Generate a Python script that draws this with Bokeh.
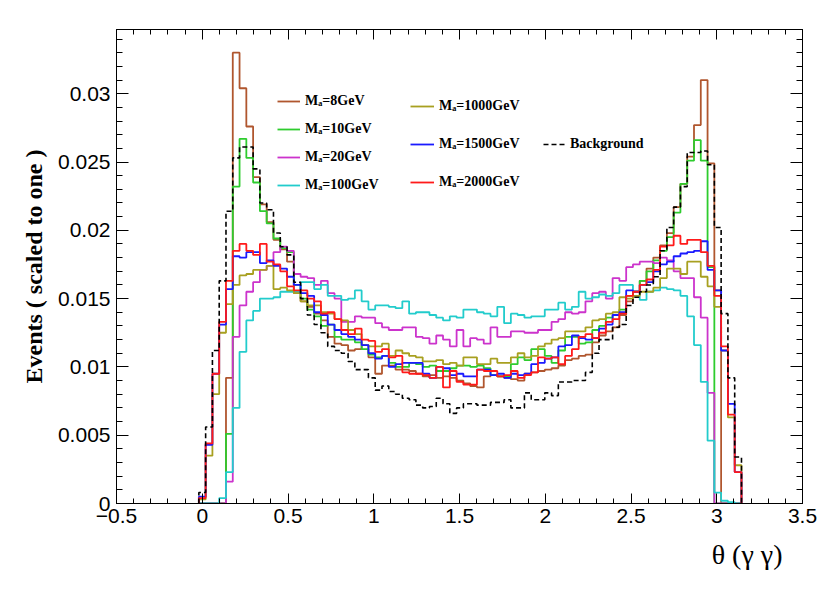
import numpy as np
from bokeh.plotting import figure
from bokeh.models import Range1d, FixedTicker, LinearAxis, Legend, LegendItem, Title
from bokeh.embed import file_html
from bokeh.resources import INLINE

# ---------------- data ----------------
theta_min, theta_max, n_bins = -0.0198, 3.1442, 80

x_ticks = [-0.5, 0, 0.5, 1, 1.5, 2, 2.5, 3, 3.5]
x_tick_labels = ["\u22120.5", "0", "0.5", "1", "1.5", "2", "2.5", "3", "3.5"]
y_ticks = [0, 0.005, 0.01, 0.015, 0.02, 0.025, 0.03]
y_tick_labels = ["0", "0.005", "0.01", "0.015", "0.02", "0.025", "0.03"]

labels = ["M\u2090=8GeV", "M\u2090=10GeV", "M\u2090=20GeV", "M\u2090=100GeV",
          "M\u2090=1000GeV", "M\u2090=1500GeV", "M\u2090=2000GeV", "Background"]

m8 = [0, 0, 0, 0, 0.0092, 0.0330, 0.0304, 0.0276, 0.0239, 0.0219,
      0.0206, 0.0193, 0.0186, 0.0177, 0.0154, 0.0148, 0.0144, 0.0139, 0.0134, 0.0122,
      0.0117, 0.0116, 0.0112, 0.0113, 0.0116, 0.0107, 0.0095, 0.0101, 0.0101, 0.0098,
      0.0098, 0.0097, 0.0095, 0.0093, 0.0094, 0.0092, 0.0093, 0.0092, 0.0090, 0.0088,
      0.0086, 0.0085, 0.0093, 0.0094, 0.0093, 0.0092, 0.0091, 0.0090, 0.0095, 0.0096,
      0.0097, 0.0098, 0.0099, 0.0101, 0.0105, 0.0106, 0.0108, 0.0109, 0.0118, 0.0123,
      0.0126, 0.0129, 0.0138, 0.0148, 0.0155, 0.0163, 0.0172, 0.0180, 0.0189, 0.0198,
      0.0217, 0.0234, 0.0254, 0.0277, 0.0310, 0.0249, 0.0156, 0, 0, 0]

m10 = [0, 0, 0, 0, 0.0051, 0.0232, 0.0267, 0.0253, 0.0235, 0.0214,
       0.0205, 0.0194, 0.0187, 0.0184, 0.0160, 0.0150, 0.0142, 0.0137, 0.0130, 0.0131,
       0.0122, 0.0120, 0.0120, 0.0118, 0.0113, 0.0109, 0.0107, 0.0108, 0.0103, 0.0100,
       0.0100, 0.0103, 0.0102, 0.0100, 0.0101, 0.0097, 0.0097, 0.0099, 0.0101, 0.0101,
       0.0100, 0.0101, 0.0099, 0.0094, 0.0093, 0.0093, 0.0102, 0.0107, 0.0105, 0.0113,
       0.0113, 0.0108, 0.0103, 0.0112, 0.0122, 0.0122, 0.0117, 0.0118, 0.0127, 0.0130,
       0.0136, 0.0138, 0.0142, 0.0152, 0.0155, 0.0163, 0.0170, 0.0178, 0.0185, 0.0195,
       0.0213, 0.0234, 0.0251, 0.0266, 0.0251, 0.0173, 0, 0, 0, 0]

m20 = [0, 0, 0, 0, 0.0016, 0.0122, 0.0145, 0.0155, 0.0162, 0.0171,
       0.0174, 0.0184, 0.0188, 0.0185, 0.0168, 0.0166, 0.0165, 0.0160, 0.0163, 0.0154,
       0.0150, 0.0133, 0.0133, 0.0137, 0.0136, 0.0136, 0.0132, 0.0129, 0.0127, 0.0127,
       0.0129, 0.0129, 0.0122, 0.0121, 0.0117, 0.0123, 0.0120, 0.0115, 0.0127, 0.0115,
       0.0121, 0.0120, 0.0117, 0.0129, 0.0122, 0.0122, 0.0126, 0.0126, 0.0125, 0.0125,
       0.0127, 0.0127, 0.0133, 0.0135, 0.0140, 0.0139, 0.0140, 0.0148, 0.0154, 0.0155,
       0.0150, 0.0165, 0.0163, 0.0173, 0.0175, 0.0177, 0.0177, 0.0176, 0.0180, 0.0178,
       0.0170, 0.0165, 0.0165, 0.0151, 0.0136, 0.0081, 0, 0, 0, 0]

m100 = [0, 0, 0, 0.0004, 0.0023, 0.0070, 0.0111, 0.0134, 0.0141, 0.0150,
        0.0150, 0.0151, 0.0155, 0.0155, 0.0155, 0.0162, 0.0162, 0.0157, 0.0160, 0.0152,
        0.0152, 0.0149, 0.0150, 0.0156, 0.0148, 0.0142, 0.0145, 0.0145, 0.0144, 0.0143,
        0.0148, 0.0139, 0.0140, 0.0140, 0.0138, 0.0136, 0.0134, 0.0137, 0.0136, 0.0142,
        0.0142, 0.0140, 0.0139, 0.0137, 0.0144, 0.0132, 0.0139, 0.0138, 0.0136, 0.0137,
        0.0137, 0.0142, 0.0142, 0.0147, 0.0142, 0.0144, 0.0155, 0.0150, 0.0151, 0.0153,
        0.0152, 0.0154, 0.0160, 0.0160, 0.0155, 0.0149, 0.0155, 0.0156, 0.0158, 0.0157,
        0.0156, 0.0152, 0.0137, 0.0116, 0.0089, 0.0046, 0.0008, 0.0002, 0.0001, 0]

m1000 = [0.0003, 0.0035, 0.0080, 0.0125, 0.0146, 0.0160, 0.0167, 0.0168, 0.0171, 0.0171,
         0.0174, 0.0157, 0.0158, 0.0156, 0.0154, 0.0148, 0.0145, 0.0145, 0.0140, 0.0139,
         0.0135, 0.0134, 0.0127, 0.0124, 0.0116, 0.0115, 0.0115, 0.0117, 0.0108, 0.0112,
         0.0110, 0.0108, 0.0107, 0.0104, 0.0104, 0.0105, 0.0102, 0.0103, 0.0101, 0.0107,
         0.0107, 0.0102, 0.0102, 0.0106, 0.0103, 0.0103, 0.0107, 0.0110, 0.0107, 0.0108,
         0.0115, 0.0117, 0.0120, 0.0121, 0.0126, 0.0126, 0.0126, 0.0129, 0.0134, 0.0135,
         0.0139, 0.0140, 0.0151, 0.0150, 0.0152, 0.0155, 0.0155, 0.0158, 0.0165, 0.0172,
         0.0172, 0.0168, 0.0177, 0.0177, 0.0166, 0.0159, 0.0144, 0.0112, 0.0063, 0.0028]

m1500 = [0.0005, 0.0043, 0.0095, 0.0131, 0.0157, 0.0181, 0.0180, 0.0184, 0.0184, 0.0176,
         0.0178, 0.0174, 0.0172, 0.0166, 0.0160, 0.0154, 0.0152, 0.0140, 0.0138, 0.0131,
         0.0127, 0.0124, 0.0122, 0.0120, 0.0116, 0.0110, 0.0106, 0.0108, 0.0100, 0.0102,
         0.0103, 0.0103, 0.0103, 0.0095, 0.0092, 0.0100, 0.0099, 0.0094, 0.0095, 0.0093,
         0.0093, 0.0098, 0.0098, 0.0094, 0.0095, 0.0092, 0.0095, 0.0094, 0.0095, 0.0102,
         0.0103, 0.0106, 0.0107, 0.0115, 0.0116, 0.0123, 0.0121, 0.0120, 0.0121, 0.0128,
         0.0131, 0.0138, 0.0140, 0.0156, 0.0155, 0.0160, 0.0162, 0.0170, 0.0175, 0.0177,
         0.0181, 0.0183, 0.0184, 0.0185, 0.0192, 0.0171, 0.0156, 0.0112, 0.0073, 0.0023]

m2000 = [0.0004, 0.0044, 0.0095, 0.0133, 0.0163, 0.0185, 0.0190, 0.0185, 0.0182, 0.0190,
         0.0177, 0.0175, 0.0170, 0.0159, 0.0156, 0.0156, 0.0150, 0.0148, 0.0139, 0.0140,
         0.0135, 0.0127, 0.0124, 0.0128, 0.0120, 0.0119, 0.0111, 0.0113, 0.0107, 0.0108,
         0.0096, 0.0095, 0.0095, 0.0094, 0.0092, 0.0100, 0.0085, 0.0097, 0.0089, 0.0087,
         0.0087, 0.0098, 0.0097, 0.0097, 0.0093, 0.0094, 0.0097, 0.0092, 0.0094, 0.0096,
         0.0107, 0.0106, 0.0107, 0.0102, 0.0108, 0.0113, 0.0122, 0.0124, 0.0121, 0.0125,
         0.0133, 0.0135, 0.0139, 0.0152, 0.0155, 0.0160, 0.0164, 0.0171, 0.0188, 0.0189,
         0.0196, 0.0190, 0.0193, 0.0193, 0.0184, 0.0174, 0.0152, 0.0115, 0.0065, 0.0023]

background = [0.0008, 0.0056, 0.0112, 0.0163, 0.0214, 0.0253, 0.0261, 0.0261, 0.0245, 0.0220,
              0.0215, 0.0198, 0.0188, 0.0182, 0.0162, 0.0150, 0.0138, 0.0131, 0.0125, 0.0115,
              0.0112, 0.0110, 0.0104, 0.0098, 0.0098, 0.0092, 0.0083, 0.0086, 0.0082, 0.0080,
              0.0077, 0.0076, 0.0072, 0.0070, 0.0071, 0.0077, 0.0073, 0.0066, 0.0070, 0.0073,
              0.0073, 0.0072, 0.0072, 0.0074, 0.0074, 0.0076, 0.0070, 0.0070, 0.0081, 0.0076,
              0.0076, 0.0081, 0.0079, 0.0089, 0.0089, 0.0090, 0.0090, 0.0096, 0.0110, 0.0120,
              0.0120, 0.0129, 0.0131, 0.0145, 0.0151, 0.0155, 0.0160, 0.0166, 0.0185, 0.0202,
              0.0217, 0.0232, 0.0257, 0.0257, 0.0258, 0.0248, 0.0202, 0.0139, 0.0092, 0.0034]

colors = ["#b0562e", "#2ecc2e", "#cc33cc", "#22cccc", "#a8a020", "#1a1aff", "#ff1a1a", "black"]

# ---------------- figure ----------------
edges = np.linspace(theta_min, theta_max, n_bins + 1)

p = figure(width=822, height=585, output_backend="svg", toolbar_location=None,
           x_range=Range1d(-0.5, 3.5), y_range=Range1d(0, 0.0347),
           min_border_left=116, min_border_right=20, min_border_top=29, min_border_bottom=82)
p.grid.visible = False
p.background_fill_color = "white"
p.border_fill_color = "white"
p.outline_line_color = "black"
p.outline_line_width = 1

x_minor = [round(v, 2) for v in np.arange(-0.5, 3.51, 0.1)]
y_minor = [round(v, 4) for v in np.arange(0, 0.0347, 0.001)]


def style_axis(ax, ticks, minor, overrides, tick_in, minor_in, show_labels):
    ax.ticker = FixedTicker(ticks=ticks, minor_ticks=minor)
    ax.major_tick_in = tick_in
    ax.major_tick_out = 0
    ax.minor_tick_in = minor_in
    ax.minor_tick_out = 0
    ax.axis_line_color = "black"
    ax.major_tick_line_color = "black"
    ax.minor_tick_line_color = "black"
    if show_labels:
        ax.major_label_overrides = overrides
        ax.major_label_text_font = "Liberation Sans"
        ax.major_label_text_font_size = "21px"
        ax.major_label_text_color = "black"
    else:
        ax.major_label_text_font_size = "0px"
        ax.major_label_standoff = 0


x_over = dict(zip(x_ticks, x_tick_labels))
y_over = dict(zip(y_ticks, y_tick_labels))

style_axis(p.xaxis[0], x_ticks, x_minor, x_over, 10, 5, True)
p.xaxis[0].major_label_standoff = 5
style_axis(p.yaxis[0], y_ticks, y_minor, y_over, 12, 6, True)
p.yaxis[0].major_label_standoff = 6
p.yaxis[0].axis_label = "Events ( scaled to one )"
p.yaxis[0].axis_label_text_font = "Liberation Serif"
p.yaxis[0].axis_label_text_font_style = "bold"
p.yaxis[0].axis_label_text_font_size = "24px"
p.yaxis[0].axis_label_text_color = "black"
p.yaxis[0].axis_label_standoff = 8

top_axis = LinearAxis()
style_axis(top_axis, x_ticks, x_minor, {}, 10, 5, False)
p.add_layout(top_axis, "above")
right_axis = LinearAxis()
style_axis(right_axis, y_ticks, y_minor, {}, 12, 6, False)
p.add_layout(right_axis, "right")

all_series = [m8, m10, m20, m100, m1000, m1500, m2000, background]
renderers = []
xs = [edges[0]] + list(edges)
for vals, col in zip(all_series, colors):
    ys = [0] + list(vals) + [0]
    if col == "black":
        r = p.step(x=xs, y=ys, mode="after", line_color=col, line_width=1.6, line_dash="5 3")
    else:
        r = p.step(x=xs, y=ys, mode="after", line_color=col, line_width=1.8)
    renderers.append(r)


def make_legend(idx, loc, spacing, gw):
    leg = Legend(items=[LegendItem(label=labels[i], renderers=[renderers[i]]) for i in idx],
                 location=loc, orientation="vertical")
    leg.border_line_color = None
    leg.background_fill_alpha = 0
    leg.padding = 0
    leg.margin = 0
    leg.spacing = spacing
    leg.glyph_width = gw
    leg.glyph_height = 20
    leg.label_height = 20
    leg.label_standoff = 5
    leg.label_text_font = "Liberation Serif"
    leg.label_text_font_style = "bold"
    leg.label_text_font_size = "14px"
    leg.label_text_color = "black"
    leg.click_policy = "none"
    return leg


p.add_layout(make_legend([0, 1, 2, 3], (161, 308), 8, 23), "center")
p.add_layout(make_legend([4, 5, 6], (294, 311), 18, 24), "center")
p.add_layout(make_legend([7], (427, 349), 0, 22), "center")

xtitle = Title(text="\u03b8 (\u03b3  \u03b3)", align="right", offset=13, standoff=22,
               text_font="Liberation Serif", text_font_style="normal",
               text_font_size="28px", text_color="black")
p.add_layout(xtitle, "below")

open("out.html", "w").write(file_html(p, INLINE))
